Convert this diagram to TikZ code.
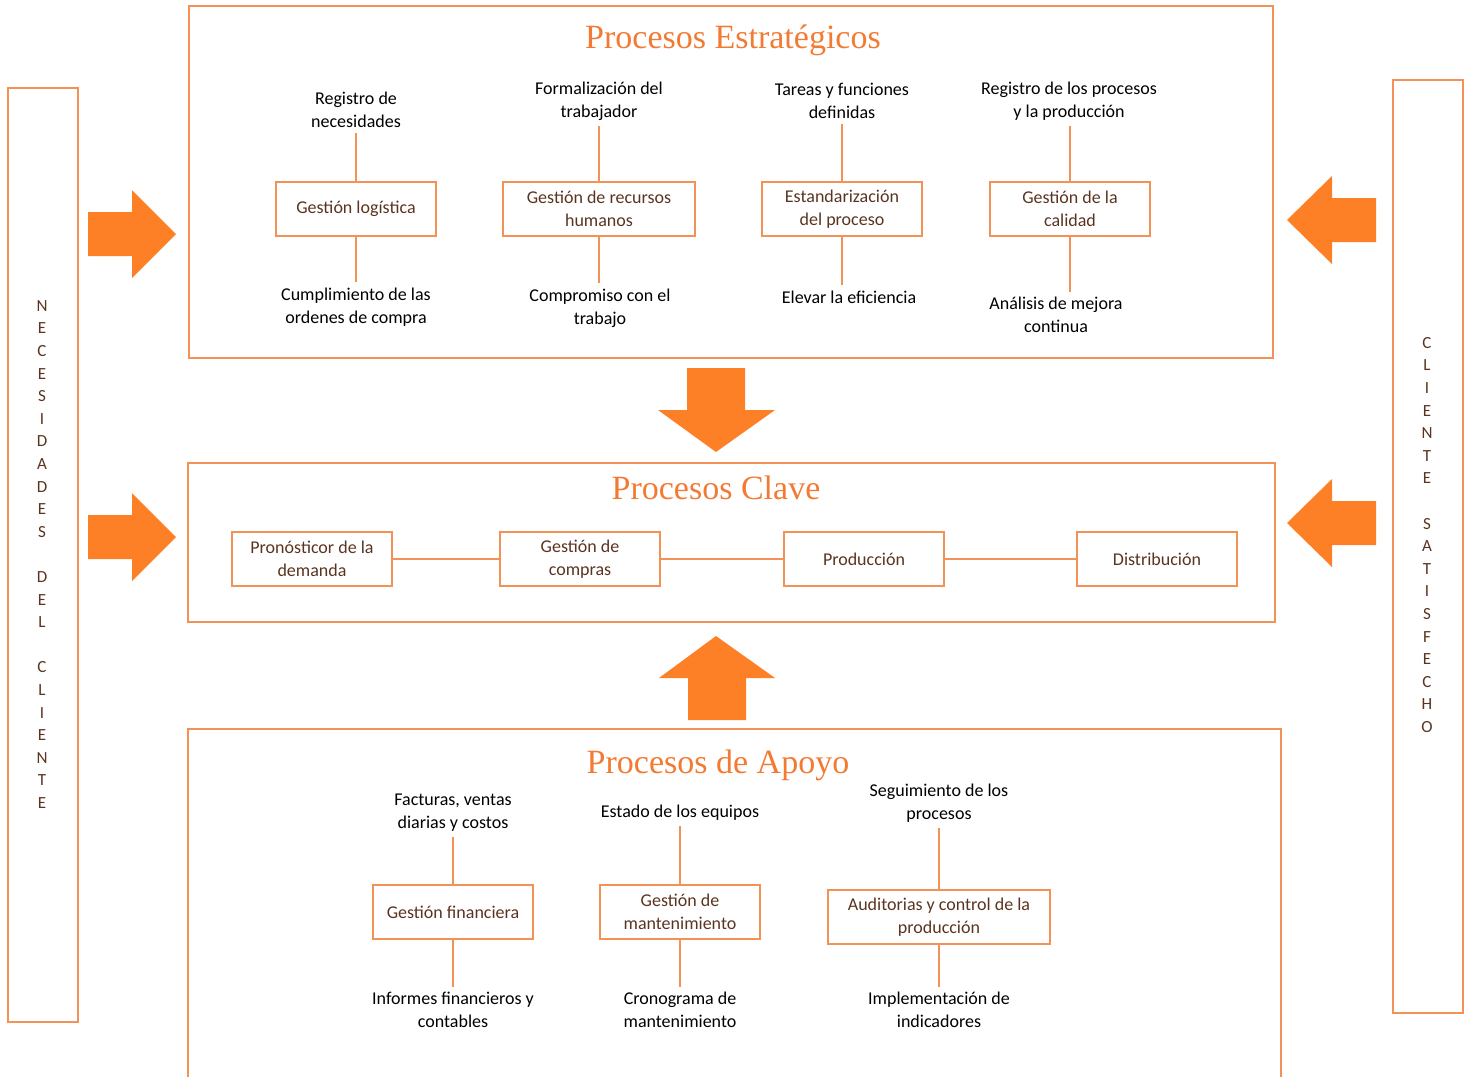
\documentclass[tikz,border=0pt]{standalone}
\usepackage{fontspec}
\setmainfont{Carlito}
\newfontfamily\titlefont{Liberation Serif}
\usepackage{tikz}
\definecolor{framecol}{HTML}{F39256}
\definecolor{arrowcol}{HTML}{FD7F26}
\definecolor{titlecol}{HTML}{F37A32}
\definecolor{boxtext}{HTML}{5A3420}
\tikzstyle{frame}=[
      rectangle,
      draw = framecol,
      line width = 1pt
      ]
\tikzstyle{procbox}=[
      rectangle,
      draw = framecol,
      line width = 1pt,
      minimum width = 80pt,
      minimum height = 27pt,
      inner sep = 2pt,
      align = center,
      text = boxtext,
      font = \fontsize{9}{11.5}\selectfont
      ]
\tikzstyle{note}=[
      align = center,
      inner sep = 2.5pt,
      font = \fontsize{9}{11.5}\selectfont
      ]
\tikzstyle{heading}=[
      text = titlecol,
      font = \titlefont\fontsize{17}{20}\selectfont
      ]
\tikzstyle{letters}=[
      align = center,
      text = boxtext,
      font = \fontsize{8.5}{11.3}\selectfont
      ]
\tikzstyle{link}=[
      draw = framecol,
      line width = 0.7pt
      ]
\tikzstyle{bigarrow}=[
      fill = arrowcol
      ]

\begin{document}
\begin{tikzpicture}[x=0.5pt,y=-0.5pt]
\useasboundingbox (0,0) rectangle (1469,1077);

\node [frame, minimum width=35pt, minimum height=467pt] (needbox) at (43,555) {};
\node [letters] (needtext) at (42,554.5) {N\\E\\C\\E\\S\\I\\D\\A\\D\\E\\S\\\mbox{}\\D\\E\\L\\\mbox{}\\C\\L\\I\\E\\N\\T\\E};
\node [frame, minimum width=35pt, minimum height=466.5pt] (satbox) at (1428,546.5) {};
\node [letters] (sattext) at (1427,535) {C\\L\\I\\E\\N\\T\\E\\\mbox{}\\S\\A\\T\\I\\S\\F\\E\\C\\H\\O};

\node [frame, minimum width=542pt, minimum height=176pt] (estr) at (731,182) {};
\node [heading] (estrtitle) at (733,40) {Procesos Estratégicos};

\node [procbox] (logi) at (356,209) {Gestión logística};
\node [procbox, minimum width=96pt] (rrhh) at (599,209) {Gestión de recursos\\humanos};
\node [procbox] (estand) at (842,209) {Estandarización\\del proceso};
\node [procbox] (calidad) at (1070,209) {Gestión de la\\calidad};

\node [note] (regnec) at (356,110) {Registro de\\necesidades};
\node [note] (formal) at (599,101) {Formalización del\\trabajador};
\node [note] (tareas) at (842,101) {Tareas y funciones\\definidas};
\node [note] (regproc) at (1069,101) {Registro de los procesos\\y la producción};
\node [note] (cumpl) at (356,307) {Cumplimiento de las\\ordenes de compra};
\node [note] (compro) at (600,308) {Compromiso con el\\trabajo};
\node [note] (elevar) at (849,297) {Elevar la eficiencia};
\node [note] (analisis) at (1056,315) {Análisis de mejora\\continua};

\draw [link] (logi.north) -- (logi.north |- regnec.south);
\draw [link] (rrhh.north) -- (rrhh.north |- formal.south);
\draw [link] (estand.north) -- (estand.north |- tareas.south);
\draw [link] (calidad.north) -- (calidad.north |- regproc.south);
\draw [link] (logi.south) -- (logi.south |- cumpl.north);
\draw [link] (rrhh.south) -- (rrhh.south |- compro.north);
\draw [link] (estand.south) -- (estand.south |- elevar.north);
\draw [link] (calidad.south) -- (calidad.south |- analisis.north);

\node [frame, minimum width=543.5pt, minimum height=79.5pt] (clave) at (731.5,542.5) {};
\node [heading] (clavetitle) at (716,488) {Procesos Clave};

\node [procbox] (pronos) at (312,559) {Pronósticor de la\\demanda};
\node [procbox] (compras) at (580,559) {Gestión de\\compras};
\node [procbox] (produc) at (864,559) {Producción};
\node [procbox] (distri) at (1157,559) {Distribución};
\draw [link] (pronos) -- (compras) -- (produc) -- (distri);

\draw [frame] (188,1080) -- (188,729) -- (1281,729) -- (1281,1080);
\node [heading] (apoyotitle) at (718,765) {Procesos de Apoyo};

\node [procbox] (finan) at (453,912) {Gestión financiera};
\node [procbox] (mante) at (680,912) {Gestión de\\mantenimiento};
\node [procbox, minimum width=111pt] (audit) at (939,917) {Auditorias y control de la\\producción};

\node [note] (factu) at (453,813) {Facturas, ventas\\diarias y costos};
\node [note] (equipos) at (680,813) {Estado de los equipos};
\node [note] (seguim) at (939,803) {Seguimiento de los\\procesos};
\node [note] (informes) at (453,1010) {Informes financieros y\\contables};
\node [note] (crono) at (680,1010) {Cronograma de\\mantenimiento};
\node [note] (implem) at (939,1010) {Implementación de\\indicadores};

\draw [link] (finan.north) -- (finan.north |- factu.south);
\draw [link] (mante.north) -- (mante.north |- equipos.south);
\draw [link] (audit.north) -- (audit.north |- seguim.south);
\draw [link] (finan.south) -- (finan.south |- informes.north);
\draw [link] (mante.south) -- (mante.south |- crono.north);
\draw [link] (audit.south) -- (audit.south |- implem.north);

\foreach \y in {234,537}
  \fill [bigarrow] (88,\y-22) -- (132,\y-22) -- (132,\y-44) -- (176,\y) -- (132,\y+44) -- (132,\y+22) -- (88,\y+22) -- cycle;
\foreach \y in {220,523}
  \fill [bigarrow] (1376,\y-22) -- (1332,\y-22) -- (1332,\y-44) -- (1287,\y) -- (1332,\y+44) -- (1332,\y+22) -- (1376,\y+22) -- cycle;
\fill [bigarrow] (687,368) -- (745,368) -- (745,410) -- (775,410) -- (716,452) -- (658,410) -- (687,410) -- cycle;
\fill [bigarrow] (716,636) -- (775,678) -- (746,678) -- (746,720) -- (688,720) -- (688,678) -- (659,678) -- cycle;
\end{tikzpicture}
\end{document}
